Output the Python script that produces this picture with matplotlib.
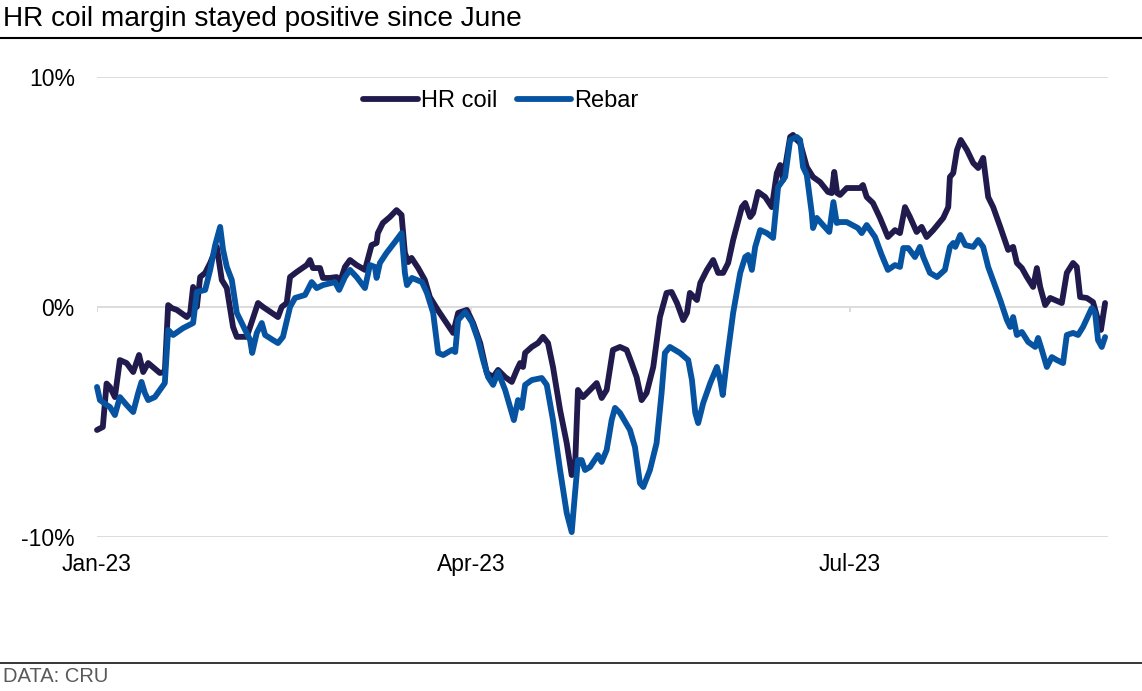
import datetime as dt

import matplotlib
matplotlib.use("Agg")
import matplotlib.pyplot as plt
import matplotlib.dates as mdates
from matplotlib.lines import Line2D

plt.rcParams['font.family'] = ['Liberation Sans', 'DejaVu Sans']

# days after 1 Jan 2023, margin in %
hr_days = [0.0, 1.4, 2.3, 3.1, 4.3, 5.5, 7.1, 8.7, 10.1, 11.1, 12.3, 15.1, 16.3, 17.1, 18.0,
           19.2, 21.6, 22.4, 23.1, 24.0, 24.8, 26.0, 27.2, 28.8, 30.0, 31.2, 32.7, 33.6, 36.0,
           38.7, 39.9, 42.0, 43.5, 44.4, 45.6, 46.4, 48.0, 50.4, 51.2, 51.9, 53.6, 54.3, 56.0,
           57.6, 58.4, 59.6, 60.8, 62.4, 64.4, 66.0, 67.2, 67.5, 68.7, 70.4, 72.0, 73.2, 74.0,
           74.8, 75.6, 77.2, 78.8, 80.0, 81.9, 84.0, 85.6, 86.8, 88.9, 90.4, 92.1, 93.7, 95.2,
           96.4, 98.1, 99.7, 100.9, 101.7, 102.4, 102.9, 104.5, 106.0, 107.2, 108.4, 109.6,
           111.3, 112.9, 114.1, 114.9, 115.6, 116.8, 118.5, 120.1, 121.3, 122.5, 124.0, 125.7,
           127.3, 128.5, 129.7, 130.9, 132.1, 133.7, 135.3, 136.9, 138.1, 139.4, 140.9, 141.8,
           142.5, 144.2, 145.0, 146.6, 148.1, 149.3, 150.5, 151.7, 152.9, 155.0, 155.8, 157.0,
           157.7, 158.9, 160.6, 162.2, 163.4, 164.2, 164.9, 165.8, 166.6, 167.3, 168.2, 169.0,
           170.6, 172.1, 173.8, 175.7, 176.6, 177.2, 177.9, 178.6, 180.2, 183.4, 184.1, 185.0,
           186.5, 188.2, 190.1, 191.8, 193.0, 194.2, 195.4, 197.0, 198.2, 199.4, 201.0, 203.4,
           204.6, 205.0, 205.8, 206.7, 207.6, 209.1, 210.6, 211.8, 213.0, 214.2, 215.4, 217.1,
           219.0, 220.2, 221.1, 222.3, 223.5, 225.0, 225.9, 226.7, 227.9, 229.1, 231.9, 233.1,
           234.6, 235.5, 236.3, 237.9, 239.4, 240.6, 241.3, 242.3]
hr_coil = [-5.36, -5.23, -3.34, -3.49, -3.93, -2.32, -2.45, -2.84, -2.10, -2.84, -2.45, -2.88,
           -2.84, 0.07, -0.06, -0.14, -0.45, -0.27, 0.86, -0.01, 1.29, 1.47, 1.90, 2.60, 1.16,
           0.81, -0.88, -1.31, -1.31, 0.16, -0.01, -0.27, -0.45, -0.01, 0.16, 1.29, 1.51, 1.81,
           2.03, 1.68, 1.68, 1.25, 1.25, 1.29, 1.07, 1.73, 2.03, 1.81, 1.60, 2.68, 2.77, 3.20,
           3.64, 3.90, 4.20, 3.99, 2.34, 1.94, 2.12, 1.68, 1.16, 0.42, -0.14, -0.71, -1.14,
           -0.27, -0.14, -0.71, -1.58, -2.88, -3.06, -2.75, -3.06, -3.27, -2.75, -2.45, -2.62,
           -2.01, -1.75, -1.58, -1.31, -1.58, -2.62, -4.49, -5.93, -7.32, -6.97, -3.62, -3.93,
           -3.62, -3.32, -3.97, -3.62, -1.88, -1.75, -1.88, -2.45, -3.06, -4.06, -3.75, -2.62,
           -0.45, 0.60, 0.64, 0.16, -0.58, -0.27, 0.60, 0.29, 1.03, 1.60, 2.03, 1.47, 1.47,
           1.90, 2.90, 4.33, 4.51, 3.90, 4.07, 4.99, 4.77, 4.33, 5.81, 6.16, 5.51, 6.51, 7.38,
           7.47, 7.25, 7.12, 6.07, 5.64, 5.42, 4.99, 4.94, 5.86, 4.94, 4.86, 5.16, 5.16, 5.29,
           4.77, 4.51, 3.86, 3.03, 3.33, 3.20, 4.33, 3.90, 3.25, 3.47, 3.03, 3.33, 3.86, 4.33,
           5.64, 5.81, 6.81, 7.25, 6.81, 6.25, 6.03, 6.47, 4.77, 4.33, 3.47, 2.47, 2.60, 1.90,
           1.68, 1.29, 0.86, 1.68, 0.86, 0.07, 0.38, 0.16, 1.47, 1.90, 1.73, 0.42, 0.38, 0.20,
           -0.58, -1.01, 0.16]

rebar_days = [0.0, 0.7, 2.3, 3.1, 4.3, 5.5, 7.1, 8.7, 9.9, 10.7, 11.5, 12.3, 13.9, 16.3, 17.1,
              18.3, 20.7, 23.1, 24.0, 26.0, 27.2, 28.4, 29.6, 30.3, 31.2, 32.4, 33.6, 35.6,
              36.8, 37.3, 38.4, 39.6, 40.4, 42.3, 43.5, 44.7, 46.4, 47.6, 50.0, 51.6, 52.8,
              54.3, 57.2, 58.2, 59.6, 60.8, 62.4, 64.4, 65.6, 66.8, 67.2, 68.0, 69.6, 71.6,
              73.2, 74.0, 74.5, 75.7, 78.1, 79.3, 80.8, 82.0, 83.2, 85.3, 86.1, 86.8, 88.5,
              90.1, 91.6, 92.8, 94.0, 95.2, 96.4, 98.1, 99.3, 100.2, 101.2, 102.1, 102.9, 104.5,
              106.9, 108.1, 109.6, 111.3, 112.9, 114.1, 114.9, 115.6, 116.5, 117.3, 118.5,
              120.4, 121.3, 122.5, 123.7, 124.5, 125.7, 128.1, 129.3, 130.5, 131.3, 132.9,
              134.5, 135.7, 136.5, 137.7, 140.1, 142.1, 143.0, 143.8, 144.5, 145.7, 147.4,
              149.0, 149.8, 150.4, 151.4, 152.9, 154.6, 155.8, 156.5, 157.4, 158.2, 159.4,
              161.0, 162.5, 163.7, 164.9, 165.4, 166.6, 168.2, 169.0, 169.7, 170.6, 171.8,
              172.1, 173.0, 174.5, 176.0, 177.0, 177.8, 178.6, 180.2, 182.9, 183.8, 185.0,
              187.0, 188.6, 190.1, 191.8, 193.0, 193.8, 195.0, 196.6, 197.8, 198.6, 200.2,
              201.9, 203.8, 205.0, 205.8, 206.3, 207.5, 208.7, 210.6, 211.8, 213.0, 214.2,
              217.1, 218.7, 219.5, 220.2, 221.1, 222.3, 223.8, 225.5, 226.2, 227.1, 228.3,
              229.5, 230.7, 232.2, 233.1, 234.6, 235.8, 237.0, 239.1, 239.9, 240.6, 241.5, 242.3]
rebar = [-3.49, -4.06, -4.27, -4.36, -4.71, -3.93, -4.27, -4.58, -3.75, -3.27, -3.75, -4.06,
         -3.93, -3.32, -1.01, -1.23, -0.93, -0.71, 0.64, 0.73, 1.60, 2.68, 3.47, 2.47, 1.73,
         1.16, -0.27, -1.01, -1.45, -2.01, -1.14, -0.71, -1.23, -1.45, -1.58, -1.31, -0.01,
         0.38, 0.51, 1.07, 0.81, 0.94, 1.07, 0.73, 1.29, 1.60, 1.29, 0.81, 1.81, 1.73, 1.25,
         1.90, 2.34, 2.81, 3.20, 1.47, 0.94, 1.25, 1.07, 0.60, -0.27, -2.01, -2.10, -1.88,
         -1.97, -0.58, -0.23, -0.67, -1.45, -2.32, -3.06, -3.40, -2.84, -3.62, -4.36, -4.93,
         -4.06, -4.40, -3.40, -3.19, -3.10, -3.40, -4.93, -7.10, -8.97, -9.80, -8.10, -6.67,
         -6.67, -7.10, -6.97, -6.45, -6.75, -6.23, -4.93, -4.40, -4.62, -5.36, -6.10, -7.67,
         -7.84, -7.10, -5.93, -3.75, -2.01, -1.75, -2.01, -2.32, -3.19, -4.62, -5.06, -4.19,
         -3.32, -2.62, -3.19, -3.84, -2.32, -0.27, 1.47, 2.16, 2.25, 1.60, 2.60, 3.33, 3.20,
         2.99, 5.20, 5.51, 5.64, 7.25, 7.38, 7.25, 6.07, 5.73, 4.07, 3.42, 3.86, 3.55, 3.25,
         4.55, 3.64, 3.68, 3.68, 3.42, 3.20, 3.55, 3.03, 2.25, 1.60, 1.81, 1.73, 2.55, 2.55,
         2.16, 2.60, 2.16, 1.47, 1.29, 1.60, 2.60, 2.77, 2.60, 3.12, 2.68, 2.60, 2.90, 2.60,
         1.73, 0.29, -0.58, -0.88, -0.45, -1.23, -1.10, -1.53, -1.75, -1.36, -1.88, -2.62,
         -2.19, -2.32, -2.45, -1.23, -1.14, -1.23, -0.88, -0.06, -0.27, -1.45, -1.75, -1.32]

tick_dates = [dt.date(2023, 1, 1), dt.date(2023, 4, 1), dt.date(2023, 7, 1)]
y_ticks = [-10, 0, 10]

start = mdates.date2num(dt.date(2023, 1, 1))
hr_x = [start + d for d in hr_days]
rebar_x = [start + d for d in rebar_days]

W, H = 1142, 691
fig = plt.figure(figsize=(W / 100, H / 100), dpi=100)
ax = fig.add_axes([97 / W, 1 - 536.7 / H, (1108 - 97) / W, (536.7 - 76.7) / H])

grid_col = '#d9d9d9'
for yv in y_ticks:
    ax.axhline(yv, color=grid_col, lw=1.3, zorder=1)
tk = [mdates.date2num(d) for d in tick_dates]
ax.vlines(tk, -0.25, 0, color=grid_col, lw=1.3, zorder=1)

dark = '#211b4d'
blue = '#0553a1'
ax.plot(hr_x, hr_coil, color=dark, lw=4.2, label='HR coil', zorder=3,
        solid_joinstyle='round', solid_capstyle='round', clip_on=False)
ax.plot(rebar_x, rebar, color=blue, lw=4.2, label='Rebar', zorder=4,
        solid_joinstyle='round', solid_capstyle='round', clip_on=False)

ax.set_xlim(start, start + 243)
ax.set_ylim(-10, 10)
ax.set_yticks(y_ticks)
ax.set_yticklabels([f'{v}%' for v in y_ticks])
ax.set_xticks(tk)
ax.xaxis.set_major_formatter(mdates.DateFormatter('%b-%y'))
ax.tick_params(axis='y', length=0, pad=16, labelsize=16.5)
ax.tick_params(axis='x', length=0, pad=12, labelsize=16.5)
for s in ax.spines.values():
    s.set_visible(False)

leg = ax.legend(loc='center', bbox_to_anchor=(501 / W, 1 - 101 / H),
                bbox_transform=fig.transFigure, ncol=2, frameon=False, fontsize=17,
                handlelength=2.3, handletextpad=0.15, columnspacing=0.8)

fig.text(3 / W, 1 - 19 / H, 'HR coil margin stayed positive since June',
         fontsize=20.2, va='center', ha='left', color='black')
fig.add_artist(Line2D([0, 1], [1 - 37.5 / H] * 2, color='black', lw=1.5))
fig.add_artist(Line2D([0, 1], [1 - 663 / H] * 2, color='black', lw=1.1))
fig.text(3 / W, 1 - 677 / H, 'DATA: CRU', fontsize=14.5, va='center', ha='left',
         color='#595959')

fig.savefig('out.png', dpi=100)
